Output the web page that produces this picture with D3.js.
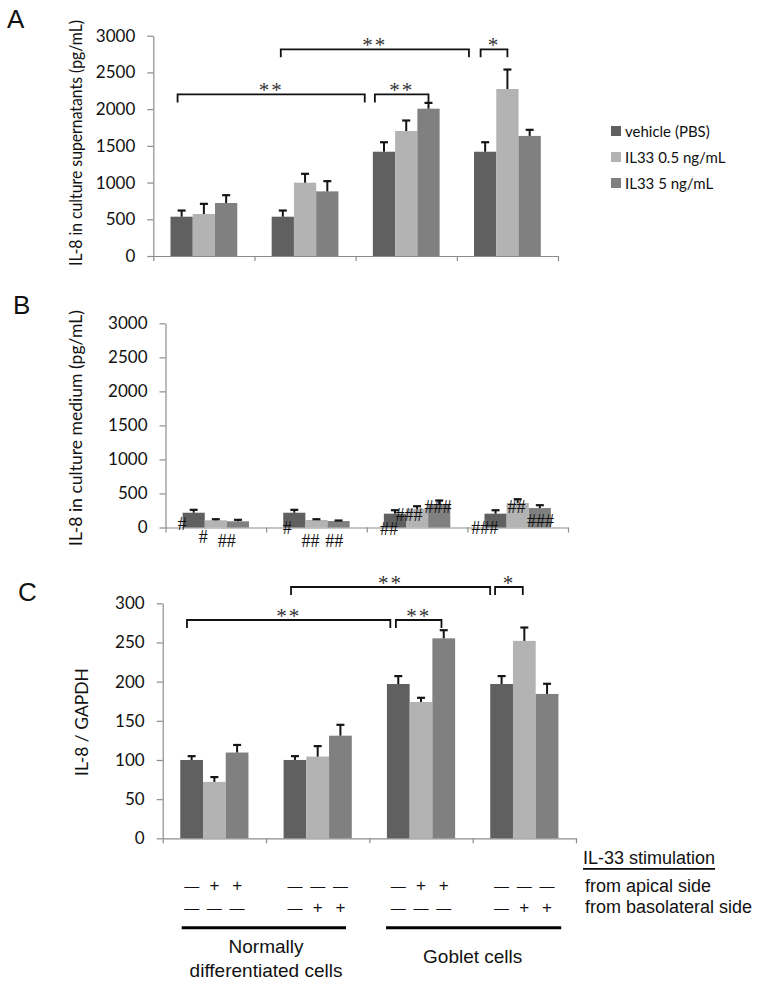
<!DOCTYPE html>
<html><head><meta charset="utf-8">
<script src="https://cdn.jsdelivr.net/npm/d3@7"></script>
<style>body{margin:0;background:#fff} svg{display:block}</style>
</head><body>
<svg id="chart" width="762" height="984"></svg>
<script>
// ---------- data ----------
const groups = ["Normal / apical", "Normal / basolateral", "Goblet / apical", "Goblet / basolateral"];
const series = ["vehicle (PBS)", "IL33 0.5 ng/mL", "IL33 5 ng/mL"];
const seriesColors = ["#606060", "#b3b3b3", "#808080"];

// Panel A: IL-8 in culture supernatants (pg/mL)
const supMean = [[535, 572, 722], [535, 998, 880], [1420, 1702, 2006], [1420, 2274, 1635]];
const supErr  = [[91, 145, 113], [91, 128, 146], [136, 150, 86], [136, 272, 90]];
const supTicks = [0, 500, 1000, 1500, 2000, 2500, 3000];

// Panel B: IL-8 in culture medium (pg/mL)
const medMean = [[217, 106, 91], [217, 110, 95], [203, 276, 345], [203, 360, 286]];
const medErr  = [[50, 23, 29], [50, 19, 15], [58, 44, 59], [58, 63, 49]];
const medTicks = [0, 500, 1000, 1500, 2000, 2500, 3000];

// Panel C: IL-8 / GAPDH
const gapMean = [[100, 72, 109.5], [100, 104.3, 131], [197, 174, 255.3], [197, 252, 184.3]];
const gapErr  = [[5.5, 6.8, 10.3], [5.5, 14, 14.5], [10.7, 6, 11], [10.7, 17.7, 13.6]];
const gapTicks = [0, 50, 100, 150, 200, 250, 300];

// stimulation table
const apicalSigns = [["—", "+", "+"], ["—", "—", "—"], ["—", "+", "+"], ["—", "—", "—"]];
const basoSigns   = [["—", "—", "—"], ["—", "+", "+"], ["—", "—", "—"], ["—", "+", "+"]];

// significance annotations (labels)
const sigLabelsA = ["**", "**", "**", "*"];
const sigLabelsC = ["**", "**", "**", "*"];
const hashLabelsB = ["#", "#", "##", "#", "##", "##", "##", "###", "###", "###", "##", "###"];

// ---------- layout (positions, not data) ----------
const bracketPosA = [{a:0.24,b:2.09,lvl:2200},{a:2.19,b:2.72,lvl:2200},{a:1.26,b:3.12,lvl:2815},{a:3.235,b:3.50,lvl:2815}];
const bracketPosC = [{a:0.235,b:2.203,lvl:278.7},{a:2.257,b:2.698,lvl:278.7},{a:1.242,b:3.169,lvl:320.8},{a:3.217,b:3.485,lvl:320.8}];
const hashPosB = [{u:0.167,v:51},{u:0.375,v:-144},{u:0.608,v:-194},{u:1.209,v:-12},{u:1.442,v:-194},{u:1.676,v:-194},
                  {u:2.222,v:-26},{u:2.421,v:183},{u:2.709,v:305},{u:3.173,v:-3},{u:3.488,v:296},{u:3.726,v:100}];

const svg = d3.select("#chart");
const AXIS_COL = "#8c8c8c";
const NUM_FONT = "Lato, 'Open Sans', sans-serif";

function panel(cfg) {
  const gx = d3.scaleBand().domain(d3.range(groups.length)).range([cfg.x0, cfg.x1]);
  const bw = gx.bandwidth();
  const sx = d3.scaleBand().domain(d3.range(series.length)).range([0.17 * bw, 0.83 * bw]);
  const y = d3.scaleLinear().domain([0, cfg.max]).range([cfg.yBase, cfg.yTop]);
  const u = d3.scaleLinear().domain([0, groups.length]).range([cfg.x0, cfg.x1]);

  const ya = svg.append("g").attr("transform", `translate(${cfg.x0},0)`)
    .call(d3.axisLeft(y).tickValues(cfg.ticks).tickSize(6).tickSizeOuter(0).tickPadding(12).tickFormat(d3.format("d")));
  ya.select(".domain").attr("stroke", AXIS_COL).attr("stroke-width", 1.2);
  ya.selectAll(".tick line").attr("stroke", AXIS_COL).attr("stroke-width", 1.2);
  ya.selectAll(".tick text").attr("font-family", NUM_FONT).attr("font-size", 17).attr("fill", "#111");

  const xa = svg.append("g").attr("transform", `translate(0,${cfg.yBase})`)
    .call(d3.axisBottom(u).tickValues(d3.range(groups.length + 1)).tickSize(5).tickSizeOuter(0).tickFormat(""));
  xa.select(".domain").attr("stroke", AXIS_COL).attr("stroke-width", 1.2);
  xa.selectAll(".tick line").attr("stroke", AXIS_COL).attr("stroke-width", 1.2);

  const g = svg.append("g");
  cfg.means.forEach((row, gi) => {
    row.forEach((v, si) => {
      const bx = gx(gi) + sx(si);
      g.append("rect").attr("x", bx).attr("width", sx.bandwidth())
        .attr("y", y(v)).attr("height", y(0) - y(v)).attr("fill", seriesColors[si]);
    });
  });
  cfg.means.forEach((row, gi) => {
    row.forEach((v, si) => {
      const cx = gx(gi) + sx(si) + sx.bandwidth() / 2;
      const top = y(v + cfg.errs[gi][si]);
      g.append("line").attr("x1", cx).attr("x2", cx).attr("y1", y(v)).attr("y2", top)
        .attr("stroke", "#151515").attr("stroke-width", 2);
      g.append("line").attr("x1", cx - 4).attr("x2", cx + 4).attr("y1", top + 0.5).attr("y2", top + 0.5)
        .attr("stroke", "#151515").attr("stroke-width", 2.2);
    });
  });

  if (cfg.brackets) {
    cfg.brackets.forEach((b, i) => {
      const ly = y(b.lvl);
      svg.append("path").attr("d", `M${u(b.a)},${ly + 8}V${ly}H${u(b.b)}V${ly + 8}`)
        .attr("fill", "none").attr("stroke", "#111").attr("stroke-width", 1.8);
      svg.append("text").attr("x", u((b.a + b.b) / 2)).attr("y", ly + 3)
        .attr("text-anchor", "middle").attr("font-family", "'Liberation Serif', serif")
        .attr("font-size", 21).attr("letter-spacing", 2).attr("fill", "#333")
        .text(cfg.bracketLabels[i]);
    });
  }

  svg.append("text")
    .attr("transform", `translate(${cfg.titleX},${cfg.titleY}) rotate(-90)`)
    .attr("text-anchor", "middle").attr("dominant-baseline", "central")
    .attr("font-family", NUM_FONT).attr("font-size", cfg.titleSize).attr("fill", "#111")
    .attr("textLength", cfg.titleLen).attr("lengthAdjust", "spacingAndGlyphs")
    .text(cfg.title);

  svg.append("text").attr("x", cfg.letterX).attr("y", cfg.letterY)
    .attr("font-family", "'Liberation Sans', Arial, sans-serif").attr("font-size", 26).attr("fill", "#111")
    .text(cfg.letter);

  return { gx, sx, y, u };
}

// Panel A
panel({ x0: 153.3, x1: 558, yBase: 256, yTop: 35.7, max: 3000, ticks: supTicks,
  means: supMean, errs: supErr, brackets: bracketPosA, bracketLabels: sigLabelsA,
  title: "IL-8 in culture supernatants (pg/mL)", titleX: 75, titleY: 143, titleSize: 17, titleLen: 246,
  letter: "A", letterX: 7, letterY: 28 });

// Panel B
const pB = panel({ x0: 165.5, x1: 568, yBase: 527.5, yTop: 323.3, max: 3000, ticks: medTicks,
  means: medMean, errs: medErr,
  title: "IL-8 in culture medium (pg/mL)", titleX: 75, titleY: 428, titleSize: 17, titleLen: 236,
  letter: "B", letterX: 13, letterY: 314 });
hashLabelsB.forEach((t, i) => {
  const p = hashPosB[i];
  svg.append("text").attr("x", pB.u(p.u)).attr("y", pB.y(p.v))
    .attr("text-anchor", "middle").attr("dominant-baseline", "central")
    .attr("font-family", "'Liberation Serif', serif").attr("font-size", 18).attr("fill", "#111")
    .text(t);
});

// Panel C
const pC = panel({ x0: 162.7, x1: 576, yBase: 838.3, yTop: 603.3, max: 300, ticks: gapTicks,
  means: gapMean, errs: gapErr, brackets: bracketPosC, bracketLabels: sigLabelsC,
  title: "IL-8 / GAPDH", titleX: 81, titleY: 722, titleSize: 18, titleLen: 108,
  letter: "C", letterX: 18, letterY: 601 });

// Legend
const legY = [131, 157, 183];
series.forEach((s, i) => {
  svg.append("rect").attr("x", 611).attr("y", legY[i] - 5).attr("width", 10).attr("height", 10).attr("fill", seriesColors[i]);
  svg.append("text").attr("x", 625).attr("y", legY[i]).attr("dominant-baseline", "central")
    .attr("font-family", NUM_FONT).attr("font-size", 15).attr("fill", "#111").text(s);
});

// Stimulation table
const ARIAL = "'Liberation Sans', Arial, sans-serif";
[apicalSigns, basoSigns].forEach((rows, ri) => {
  const ry = [885.5, 907][ri];
  rows.forEach((row, gi) => {
    row.forEach((sg, si) => {
      svg.append("text").attr("x", pC.gx(gi) + pC.sx(si) + pC.sx.bandwidth() / 2).attr("y", ry)
        .attr("text-anchor", "middle").attr("dominant-baseline", "central")
        .attr("font-family", ARIAL).attr("font-size", sg === "+" ? 17 : 15).attr("fill", "#111").text(sg);
    });
  });
});
[[0.184, 1.774], [2.162, 3.857]].forEach(([a, b]) => {
  svg.append("line").attr("x1", pC.u(a)).attr("x2", pC.u(b)).attr("y1", 927.7).attr("y2", 927.7)
    .attr("stroke", "#000").attr("stroke-width", 3);
});
svg.append("text").attr("x", pC.u(1)).attr("y", 946.7).attr("text-anchor", "middle").attr("dominant-baseline", "central")
  .attr("font-family", ARIAL).attr("font-size", 19).attr("fill", "#111").text("Normally");
svg.append("text").attr("x", pC.u(1)).attr("y", 970).attr("text-anchor", "middle").attr("dominant-baseline", "central")
  .attr("font-family", ARIAL).attr("font-size", 19).attr("fill", "#111").text("differentiated cells");
svg.append("text").attr("x", pC.u(3)).attr("y", 956.7).attr("text-anchor", "middle").attr("dominant-baseline", "central")
  .attr("font-family", ARIAL).attr("font-size", 19).attr("fill", "#111").text("Goblet cells");

svg.append("text").attr("x", 583).attr("y", 858).attr("dominant-baseline", "central")
  .attr("font-family", ARIAL).attr("font-size", 18).attr("fill", "#111")
  .attr("text-decoration", "underline").text("IL-33 stimulation");
svg.append("text").attr("x", 585).attr("y", 885.5).attr("dominant-baseline", "central")
  .attr("font-family", ARIAL).attr("font-size", 18).attr("fill", "#111").text("from apical side");
svg.append("text").attr("x", 585).attr("y", 907).attr("dominant-baseline", "central")
  .attr("font-family", ARIAL).attr("font-size", 18).attr("fill", "#111").text("from basolateral side");
</script></body></html>
